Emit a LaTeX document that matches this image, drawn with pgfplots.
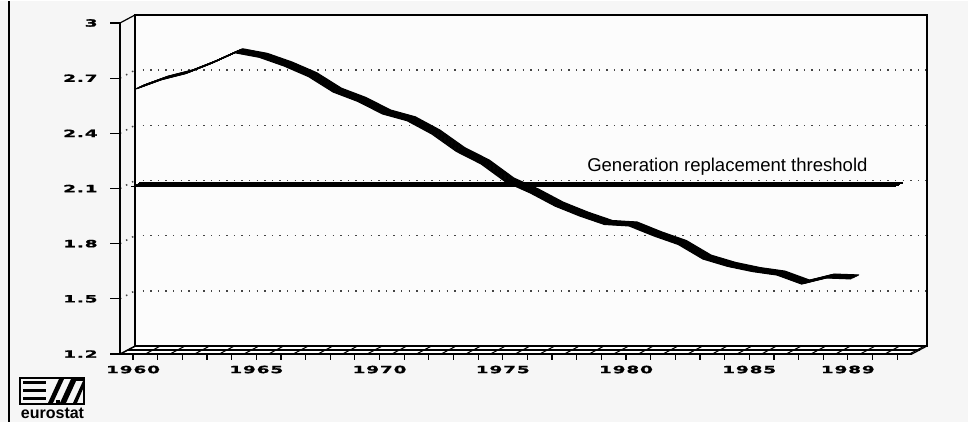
\documentclass[border=0pt]{standalone}
\usepackage{pgfplots}
\usepackage{pgfplotstable}
\pgfplotsset{compat=1.18}
\usepackage{fontspec}
\setmainfont{Liberation Sans}
\newfontfamily\tickfont{DejaVu Sans}[FakeStretch=1.85,LetterSpace=8,FakeBold=1.2]
\definecolor{bgc}{HTML}{F6F6F6}
\definecolor{wallc}{HTML}{FCFCFC}
\definecolor{dotc}{HTML}{444444}

% total fertility rate, EUR 12
\pgfplotstableread{
year tfr
1960 2.633
1961 2.682
1962 2.716
1963 2.769
1964 2.830
1965 2.805
1966 2.758
1967 2.700
1968 2.616
1969 2.565
1970 2.497
1971 2.460
1972 2.388
1973 2.293
1974 2.225
1975 2.127
1976 2.067
1977 1.996
1978 1.942
1979 1.896
1980 1.888
1981 1.834
1982 1.787
1983 1.708
1984 1.668
1985 1.640
1986 1.621
1987 1.572
1988 1.605
1989 1.600
}\tfr

\pgfplotsset{
  base/.style={scale only axis, width=594pt, height=248.25pt,
    xmin=1959.47, xmax=1991.6, ymin=1.2, ymax=3.0,
    anchor=south west, clip=false},
}

\begin{document}
\begin{tikzpicture}
\begin{scope}[x=0.75pt,y=0.75pt]
\fill[bgc] (0,0) rectangle (968,421);
\useasboundingbox (0,0) rectangle (968,421);
\end{scope}

% back wall
\begin{axis}[base, at={(101.25pt,57pt)},
  axis background/.style={fill=wallc},
  axis line style={line width=0.9pt},
  xtick=\empty, ytick={1.5,1.8,2.1,2.4,2.7}, yticklabels={},
  major tick length=0pt,
  ymajorgrids,
  grid style={dotc, line width=1.1pt, dash pattern=on 1.1pt off 4.6pt},
]
\addplot[draw=none] coordinates {(1960,2)};
\end{axis}

\begin{scope}[x=0.75pt,y=0.75pt]
% floor
\fill[white] (120,68) -- (912,68) -- (927,76) -- (135,76) -- cycle;
\draw[line width=0.8pt] (127.5,72) -- (919.5,72);
\draw[line width=0.9pt] (135,76) -- (927,76);
\foreach \k in {1960,...,1992} {
  \pgfmathsetmacro{\xf}{120+(\k-0.5-1959.47)*24.65}
  \draw[line width=0.8pt] (\xf,68) -- ({\xf+15},76);
}
\draw[line width=0.9pt] (120,68) -- (135,76) (912,68) -- (927,76) (120,399) -- (135,407);
\foreach \v in {1.5,1.8,2.1,2.4,2.7} {
  \pgfmathsetmacro{\yf}{68+(\v-1.2)*183.89}
  \draw[dotc, line width=1.1pt, dash pattern=on 1.1pt off 4pt] (120,\yf) -- (135,{\yf+8});
}
\end{scope}

% front axes
\begin{axis}[base, at={(90pt,51pt)},
  axis x line*=bottom, axis y line*=left,
  axis line style={line width=1.2pt},
  tick align=outside,
  tick style={black, line width=0.9pt},
  xtick style={/pgfplots/major tick length=4.5pt},
  ytick style={/pgfplots/major tick length=7.5pt},
  xtick={1960,...,1991},
  xticklabels={1960,,,,,1965,,,,,1970,,,,,1975,,,,,1980,,,,,1985,,,,1989,,},
  ytick={1.2,1.5,1.8,2.1,2.4,2.7,3},
  yticklabels={1.2,1.5,1.8,2.1,2.4,2.7,3},
  ticklabel style={font=\tickfont\bfseries\fontsize{7.5pt}{8pt}\selectfont},
  yticklabel style={xshift=-9pt},
  xticklabel style={yshift=-1pt},
]
\addplot[draw=none] coordinates {(1960,2)};
\end{axis}

% data plane, drawn with a slanted pen
\begin{axis}[base, at={(95.25pt,53.625pt)}, hide axis]
\pgfplotsinvokeforeach{-1,-0.8,-0.6,-0.4,-0.2,0,0.2,0.4,0.6,0.8,1}{
  \addplot[black, line width=0.9pt, line join=round, xshift=#1*3.06pt, yshift=#1*1.43pt]
    table[x=year, y=tfr] {\tfr};
  \addplot[black, line width=0.9pt, xshift=#1*3.06pt, yshift=#1*1.43pt]
    coordinates {(1959.8,2.1) (1990.78,2.1)};
}
\end{axis}

\begin{scope}[x=0.75pt,y=0.75pt]
\node[anchor=base west, inner sep=0pt, font=\fontsize{13.9pt}{16pt}\selectfont]
  at (587,250) {Generation replacement threshold};

% frame and logo
\draw[line width=1.5pt] (9,0) -- (9,421);
\draw[line width=1.6pt] (20,18) rectangle (84,44);
\fill (23,37.5) rectangle (46,40.5);
\fill (23,29.5) rectangle (46,32.5);
\fill (23,21.5) rectangle (46,24.5);
\fill (48,19) -- (53,19) -- (64,43) -- (59,43) -- cycle;
\fill (60,19) -- (66,19) -- (77,43) -- (71,43) -- cycle;
\fill (71,41) rectangle (83,43.5);
\fill (60,19) rectangle (56,21.5);
\fill (73,19) -- (77,19) -- (83,33) -- (83,41) -- cycle;
\node[anchor=base, inner sep=0pt, font=\bfseries\fontsize{12pt}{13pt}\selectfont] at (52.5,3) {eurostat};
\end{scope}
\end{tikzpicture}
\end{document}
